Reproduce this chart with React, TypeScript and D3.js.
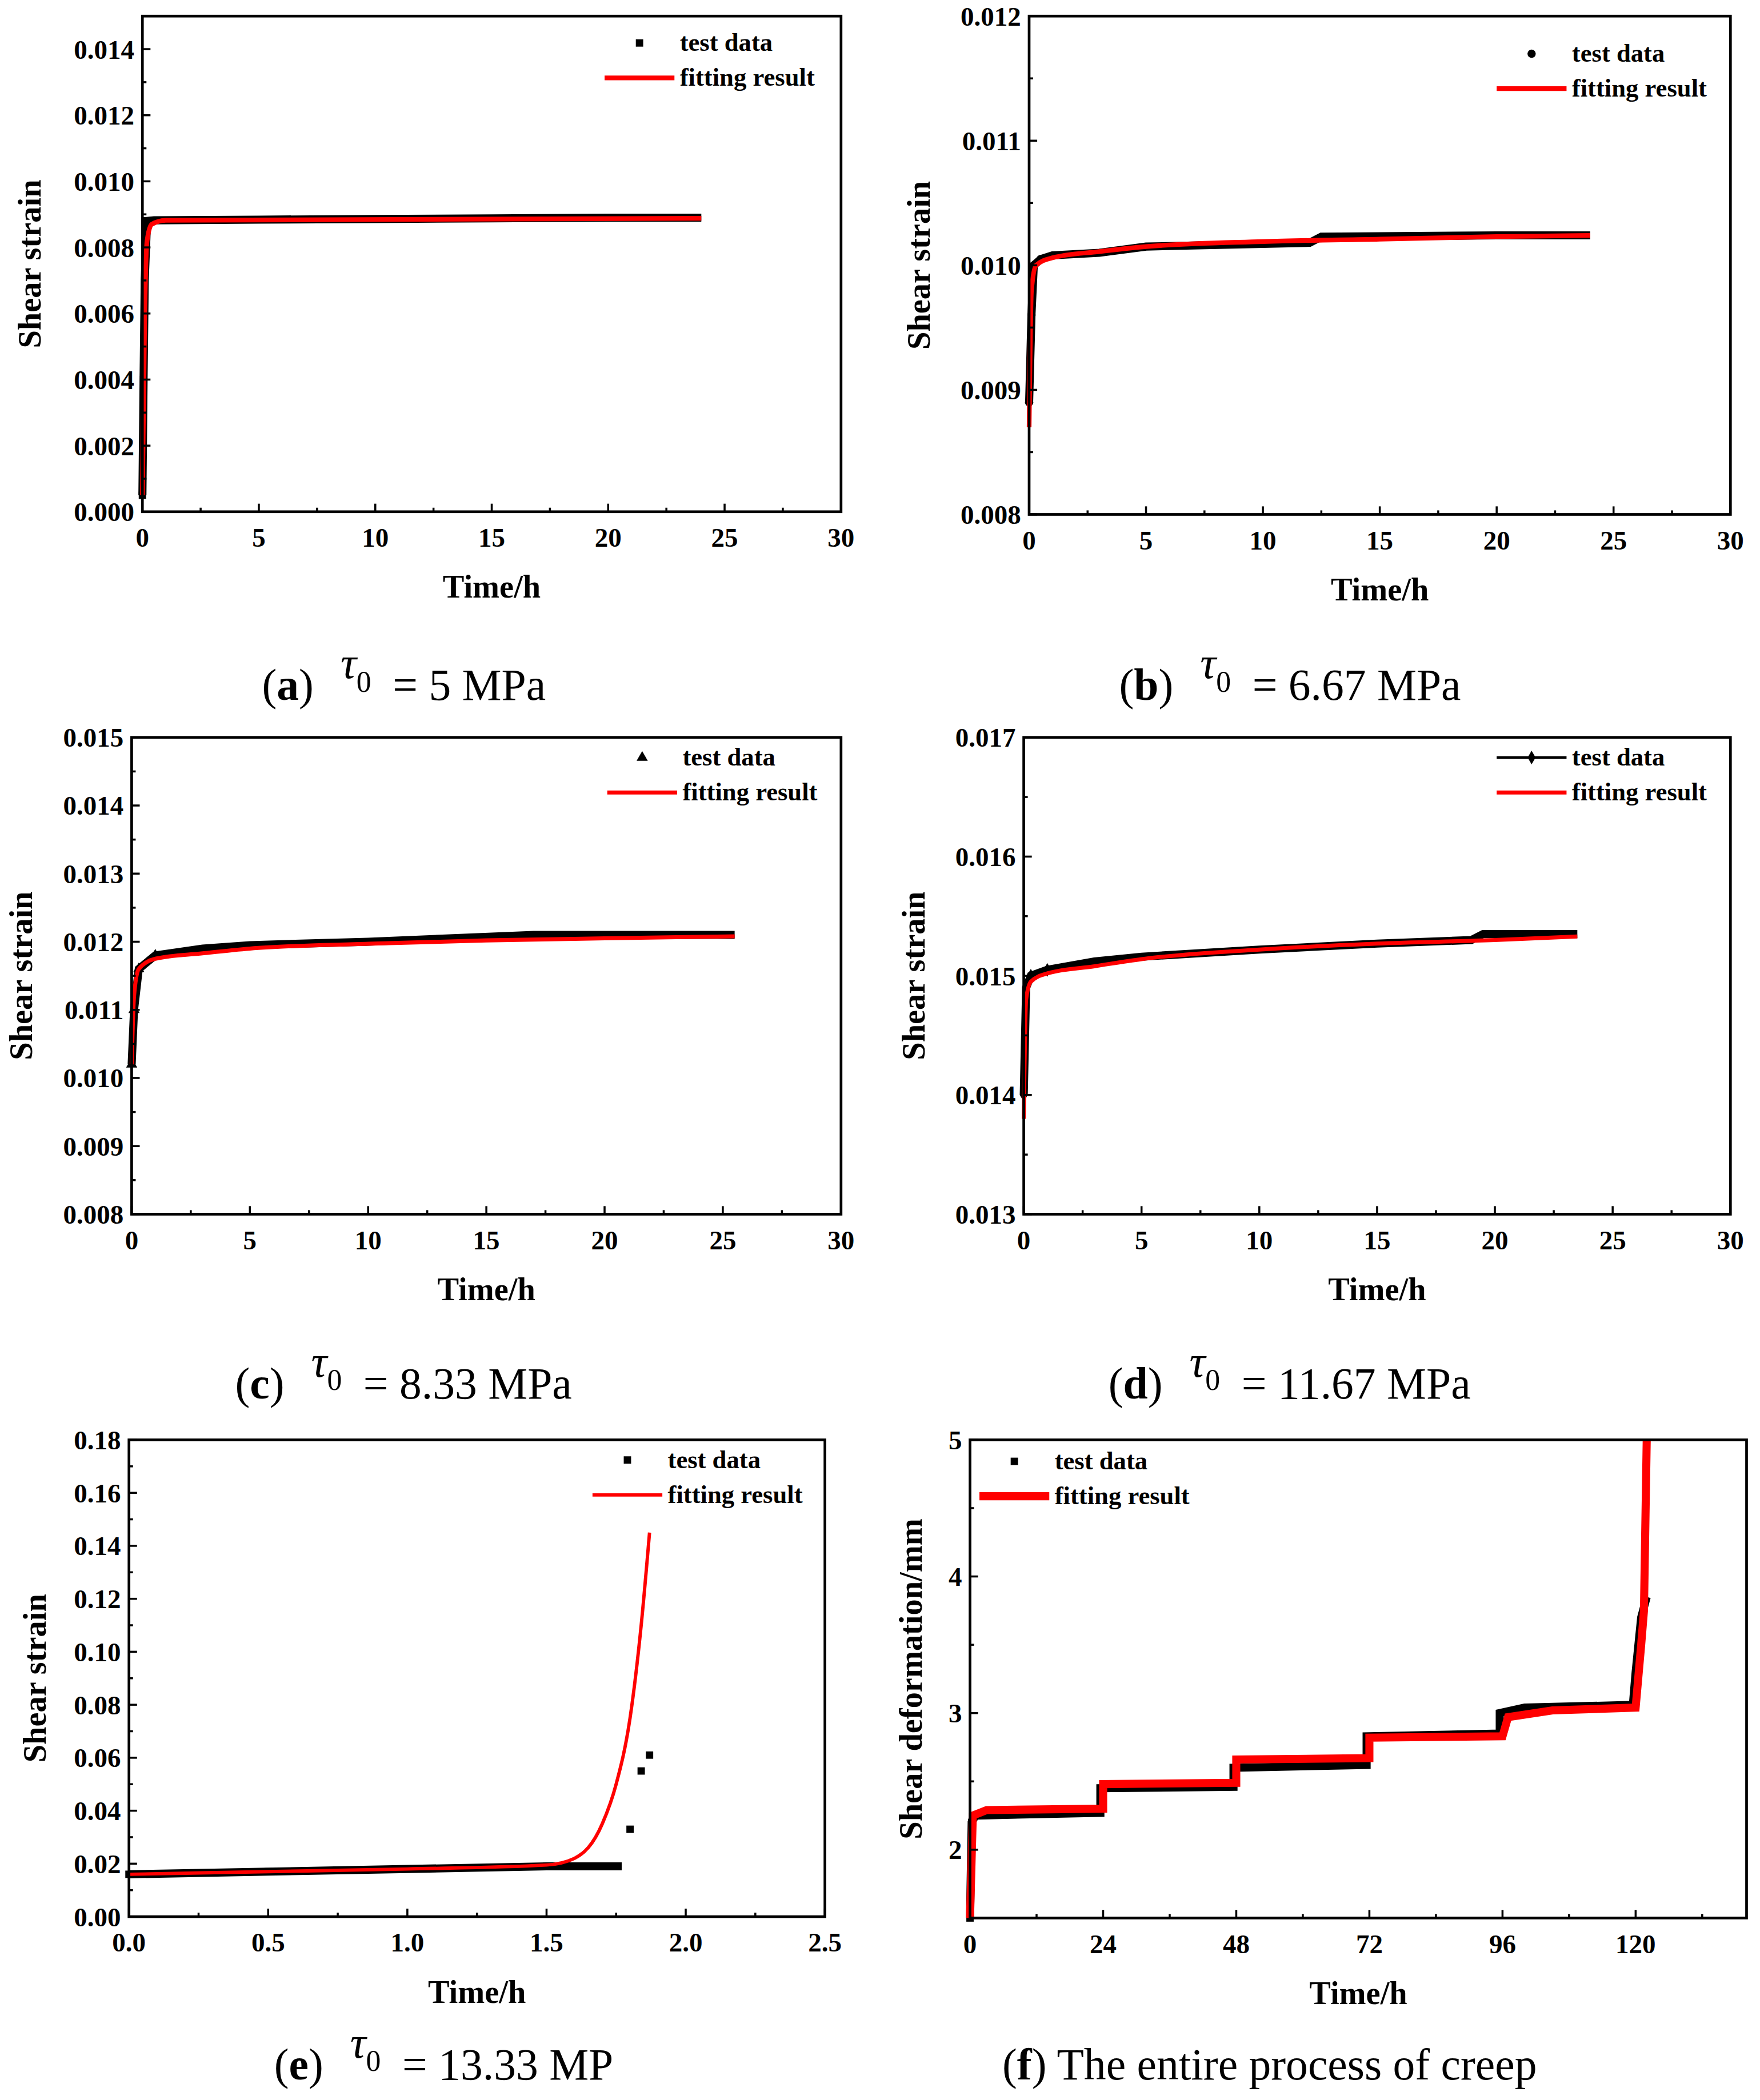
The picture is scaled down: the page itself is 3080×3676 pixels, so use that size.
import React from 'react';
import * as d3 from 'd3';

type Pt = [number, number];

// panel data
const testA: Pt[] = [[0, 0.0005], [0.05, 0.004], [0.1, 0.007], [0.2, 0.0088], [0.5, 0.00882], [5, 0.00884], [10, 0.00886], [15, 0.00888], [20, 0.0089], [24, 0.0089]];
const fitA: Pt[] = [[0, 0.0005], [0.1, 0.006], [0.2, 0.0082], [0.4, 0.0087], [1, 0.00882], [24, 0.00888]];
const testB: Pt[] = [[0, 0.0089], [0.1, 0.0096], [0.2, 0.01], [0.5, 0.01005], [1, 0.01008], [3, 0.0101], [5, 0.01015], [12, 0.01018], [12.5, 0.01023], [20, 0.01024], [24, 0.01024]];
const fitB: Pt[] = [[0, 0.0087], [0.1, 0.0098], [0.3, 0.01], [1, 0.01006], [3, 0.01011], [5, 0.01015], [10, 0.01019], [15, 0.01021], [20, 0.01023], [24, 0.01024]];
const testC: Pt[] = [[0, 0.0102], [0.1, 0.011], [0.3, 0.0116], [1, 0.0118], [3, 0.0119], [5, 0.01195], [10, 0.012], [17, 0.0121], [25.5, 0.0121]];
const fitC: Pt[] = [[0, 0.0102], [0.1, 0.0112], [0.3, 0.0116], [1, 0.01175], [3, 0.01183], [5, 0.0119], [10, 0.01197], [15, 0.01202], [20, 0.01205], [25.5, 0.01208]];
const testD: Pt[] = [[0, 0.014], [0.1, 0.0149], [0.3, 0.015], [1, 0.01505], [3, 0.01512], [5, 0.01516], [10, 0.01522], [15, 0.01527], [19, 0.0153], [19.5, 0.01535], [23.5, 0.01535]];
const fitD: Pt[] = [[0, 0.0138], [0.1, 0.0148], [0.3, 0.01495], [1, 0.01502], [3, 0.01508], [5, 0.01514], [10, 0.01522], [15, 0.01527], [20, 0.0153], [23.5, 0.01533]];
const testE: Pt[] = [[0, 0.016], [0.5, 0.017], [1, 0.018], [1.5, 0.019], [1.77, 0.019]];
const pointsE: Pt[] = [[1.8, 0.033], [1.84, 0.055], [1.87, 0.061]];
const fitE: Pt[] = [[0, 0.016], [0.5, 0.017], [1, 0.018], [1.5, 0.0195], [1.6, 0.022], [1.7, 0.035], [1.75, 0.05], [1.8, 0.075], [1.84, 0.11], [1.87, 0.145]];
const testF: Pt[] = [[0, 1.5], [0.3, 2.2], [1, 2.25], [23.5, 2.27], [23.5, 2.45], [47.5, 2.46], [47.5, 2.6], [71.5, 2.62], [71.5, 2.83], [95.5, 2.85], [95.5, 3.0], [100, 3.04], [119.5, 3.06], [120, 3.3], [121, 3.7], [122, 3.85]];
const fitF: Pt[] = [[0, 1.5], [0.5, 2.25], [3, 2.29], [24, 2.3], [24, 2.48], [48, 2.49], [48, 2.66], [72, 2.67], [72, 2.82], [96, 2.83], [97, 2.97], [105, 3.02], [120, 3.04], [121, 3.5], [121.5, 3.75], [122, 5]];

const S = 3080 / 1310;
const FONT = '"Liberation Serif", "Times New Roman", serif';

interface PanelProps {
  box: [number, number, number, number];
  xDom: [number, number]; xTicks: number[]; xMinor: number[]; xFmt: (v: number) => string;
  yDom: [number, number]; yTicks: number[]; yMinor: number[]; yFmt: (v: number) => string;
  yLabel: string; yLabelX: number;
  test: Pt[]; fit: Pt[]; extra?: Pt[];
  symbol: d3.SymbolType; legendLine?: boolean;
  legend: [number, number, number]; // text x, y1, y2
  fitWidth: number; smooth?: boolean;
}

const Panel = (p: PanelProps) => {
  const [x0, y0, x1, y1] = p.box;
  const x = d3.scaleLinear().domain(p.xDom).range([x0, x1]);
  const y = d3.scaleLinear().domain(p.yDom).range([y1, y0]);
  const line = d3.line<Pt>().x(d => x(d[0])).y(d => y(d[1]));
  const fitLine = d3.line<Pt>().x(d => x(d[0])).y(d => y(d[1]))
    .curve(p.smooth ? d3.curveMonotoneX : d3.curveLinear);
  const sym = d3.symbol(p.symbol, 30)();
  const [lx, ly1, ly2] = p.legend;
  return (
    <g fontFamily={FONT} fontWeight="bold">
      <path d={line(p.test)!} fill="none" stroke="#000" strokeWidth={6} />
      {p.test.slice(0, 4).map((d, i) => (
        <path key={i} d={sym} transform={`translate(${x(d[0])},${y(d[1])})`} />
      ))}
      {(p.extra || []).map((d, i) => (
        <path key={'e' + i} d={sym} transform={`translate(${x(d[0])},${y(d[1])})`} />
      ))}
      <path d={fitLine(p.fit)!} fill="none" stroke="#ff0000" strokeWidth={p.fitWidth} />
      <rect x={x0} y={y0} width={x1 - x0} height={y1 - y0} fill="none" stroke="#000" strokeWidth={2} />
      {p.xTicks.map(t => (
        <g key={t}>
          <line x1={x(t)} x2={x(t)} y1={y1} y2={y1 - 6} stroke="#000" strokeWidth={1.5} />
          <text x={x(t)} y={y1 + 26} textAnchor="middle" fontSize={20}>{p.xFmt(t)}</text>
        </g>
      ))}
      {p.xMinor.map(t => <line key={t} x1={x(t)} x2={x(t)} y1={y1} y2={y1 - 3} stroke="#000" strokeWidth={1.5} />)}
      {p.yTicks.map(t => (
        <g key={t}>
          <line x1={x0} x2={x0 + 6} y1={y(t)} y2={y(t)} stroke="#000" strokeWidth={1.5} />
          <text x={x0 - 6} y={y(t) + 7} textAnchor="end" fontSize={20}>{p.yFmt(t)}</text>
        </g>
      ))}
      {p.yMinor.map(t => <line key={t} x1={x0} x2={x0 + 3} y1={y(t)} y2={y(t)} stroke="#000" strokeWidth={1.5} />)}
      <text x={(x0 + x1) / 2} y={y1 + 64} textAnchor="middle" fontSize={24}>Time/h</text>
      <text transform={`translate(${p.yLabelX},${(y0 + y1) / 2}) rotate(-90)`} textAnchor="middle" fontSize={24}>{p.yLabel}</text>
      {p.legendLine && <line x1={lx - 56} x2={lx - 4} y1={ly1 - 6} y2={ly1 - 6} stroke="#000" strokeWidth={2} />}
      <path d={sym} transform={`translate(${lx - 30},${ly1 - 6})`} />
      <line x1={lx - 56} x2={lx - 4} y1={ly2 - 6} y2={ly2 - 6} stroke="#ff0000" strokeWidth={p.fitWidth} />
      <text x={lx} y={ly1} fontSize={19}>test data</text>
      <text x={lx} y={ly2} fontSize={19}>fitting result</text>
    </g>
  );
};

const rng = (a: number, b: number, st: number) => d3.range(a, b + st / 2, st).map(v => +v.toFixed(6));
const f3 = d3.format('.3f');
const f2 = d3.format('.2f');
const f1 = d3.format('.1f');
const f0 = (v: number) => String(v);

const Caption = ({ x, y, tag, val }: { x: number; y: number; tag: string; val?: string }) => (
  <text x={x} y={y} fontFamily={FONT} fontSize={33}>
    (<tspan fontWeight="bold">{tag}</tspan>)
    {val !== undefined ? (
      <>
        <tspan dx={20} dy={-16} fontStyle="italic">τ</tspan>
        <tspan dy={10} fontSize={22}>0</tspan>
        <tspan dx={16} dy={6}>= {val}</tspan>
      </>
    ) : null}
  </text>
);

export default function App() {
  return (
    <svg width={3080} height={3676} style={{ position: 'absolute', left: 0, top: 0, background: '#fff' }}>
      <g transform={`scale(${S})`}>
        <Panel box={[106, 12, 626, 381]} xDom={[0, 30]} xTicks={rng(0, 30, 5)} xMinor={rng(2.5, 27.5, 5)} xFmt={f0}
          yDom={[0, 0.015]} yTicks={rng(0, 0.014, 0.002)} yMinor={rng(0.001, 0.015, 0.002)} yFmt={f3}
          yLabel="Shear strain" yLabelX={30} test={testA} fit={fitA} symbol={d3.symbolSquare}
          legend={[506, 38, 64]} fitWidth={3.5} smooth />
        <Panel box={[766, 12, 1288, 383]} xDom={[0, 30]} xTicks={rng(0, 30, 5)} xMinor={rng(2.5, 27.5, 5)} xFmt={f0}
          yDom={[0.008, 0.012]} yTicks={rng(0.008, 0.012, 0.001)} yMinor={rng(0.0085, 0.0115, 0.001)} yFmt={f3}
          yLabel="Shear strain" yLabelX={692} test={testB} fit={fitB} symbol={d3.symbolCircle}
          legend={[1170, 46, 72]} fitWidth={3.5} smooth />
        <Panel box={[98, 549, 626, 904]} xDom={[0, 30]} xTicks={rng(0, 30, 5)} xMinor={rng(2.5, 27.5, 5)} xFmt={f0}
          yDom={[0.008, 0.015]} yTicks={rng(0.008, 0.015, 0.001)} yMinor={rng(0.0085, 0.0145, 0.001)} yFmt={f3}
          yLabel="Shear strain" yLabelX={24} test={testC} fit={fitC} symbol={d3.symbolTriangle}
          legend={[508, 570, 596]} fitWidth={3} smooth />
        <Panel box={[762, 549, 1288, 904]} xDom={[0, 30]} xTicks={rng(0, 30, 5)} xMinor={rng(2.5, 27.5, 5)} xFmt={f0}
          yDom={[0.013, 0.017]} yTicks={rng(0.013, 0.017, 0.001)} yMinor={rng(0.0135, 0.0165, 0.001)} yFmt={f3}
          yLabel="Shear strain" yLabelX={688} test={testD} fit={fitD} symbol={d3.symbolDiamond} legendLine
          legend={[1170, 570, 596]} fitWidth={3} smooth />
        <Panel box={[96, 1072, 614, 1427]} xDom={[0, 2.5]} xTicks={rng(0, 2.5, 0.5)} xMinor={rng(0.25, 2.25, 0.5)} xFmt={f1}
          yDom={[0, 0.18]} yTicks={rng(0, 0.18, 0.02)} yMinor={rng(0.01, 0.17, 0.02)} yFmt={f2}
          yLabel="Shear strain" yLabelX={34} test={testE} fit={fitE} extra={pointsE} symbol={d3.symbolSquare}
          legend={[497, 1093, 1119]} fitWidth={2.5} smooth />
        <Panel box={[722, 1072, 1300, 1428]} xDom={[0, 140]} xTicks={rng(0, 120, 24)} xMinor={rng(12, 132, 24)} xFmt={f0}
          yDom={[1.5, 5]} yTicks={[2, 3, 4, 5]} yMinor={[2.5, 3.5, 4.5]} yFmt={f0}
          yLabel="Shear deformation/mm" yLabelX={686} test={testF} fit={fitF} symbol={d3.symbolSquare}
          legend={[785, 1094, 1120]} fitWidth={6} />
        <Caption x={195} y={521} tag="a" val="5 MPa" />
        <Caption x={833} y={521} tag="b" val="6.67 MPa" />
        <Caption x={175} y={1041} tag="c" val="8.33 MPa" />
        <Caption x={825} y={1041} tag="d" val="11.67 MPa" />
        <Caption x={204} y={1548} tag="e" val="13.33 MP" />
        <text x={746} y={1548} fontFamily={FONT} fontSize={33}>
          (<tspan fontWeight="bold">f</tspan>) The entire process of creep
        </text>
      </g>
    </svg>
  );
}
